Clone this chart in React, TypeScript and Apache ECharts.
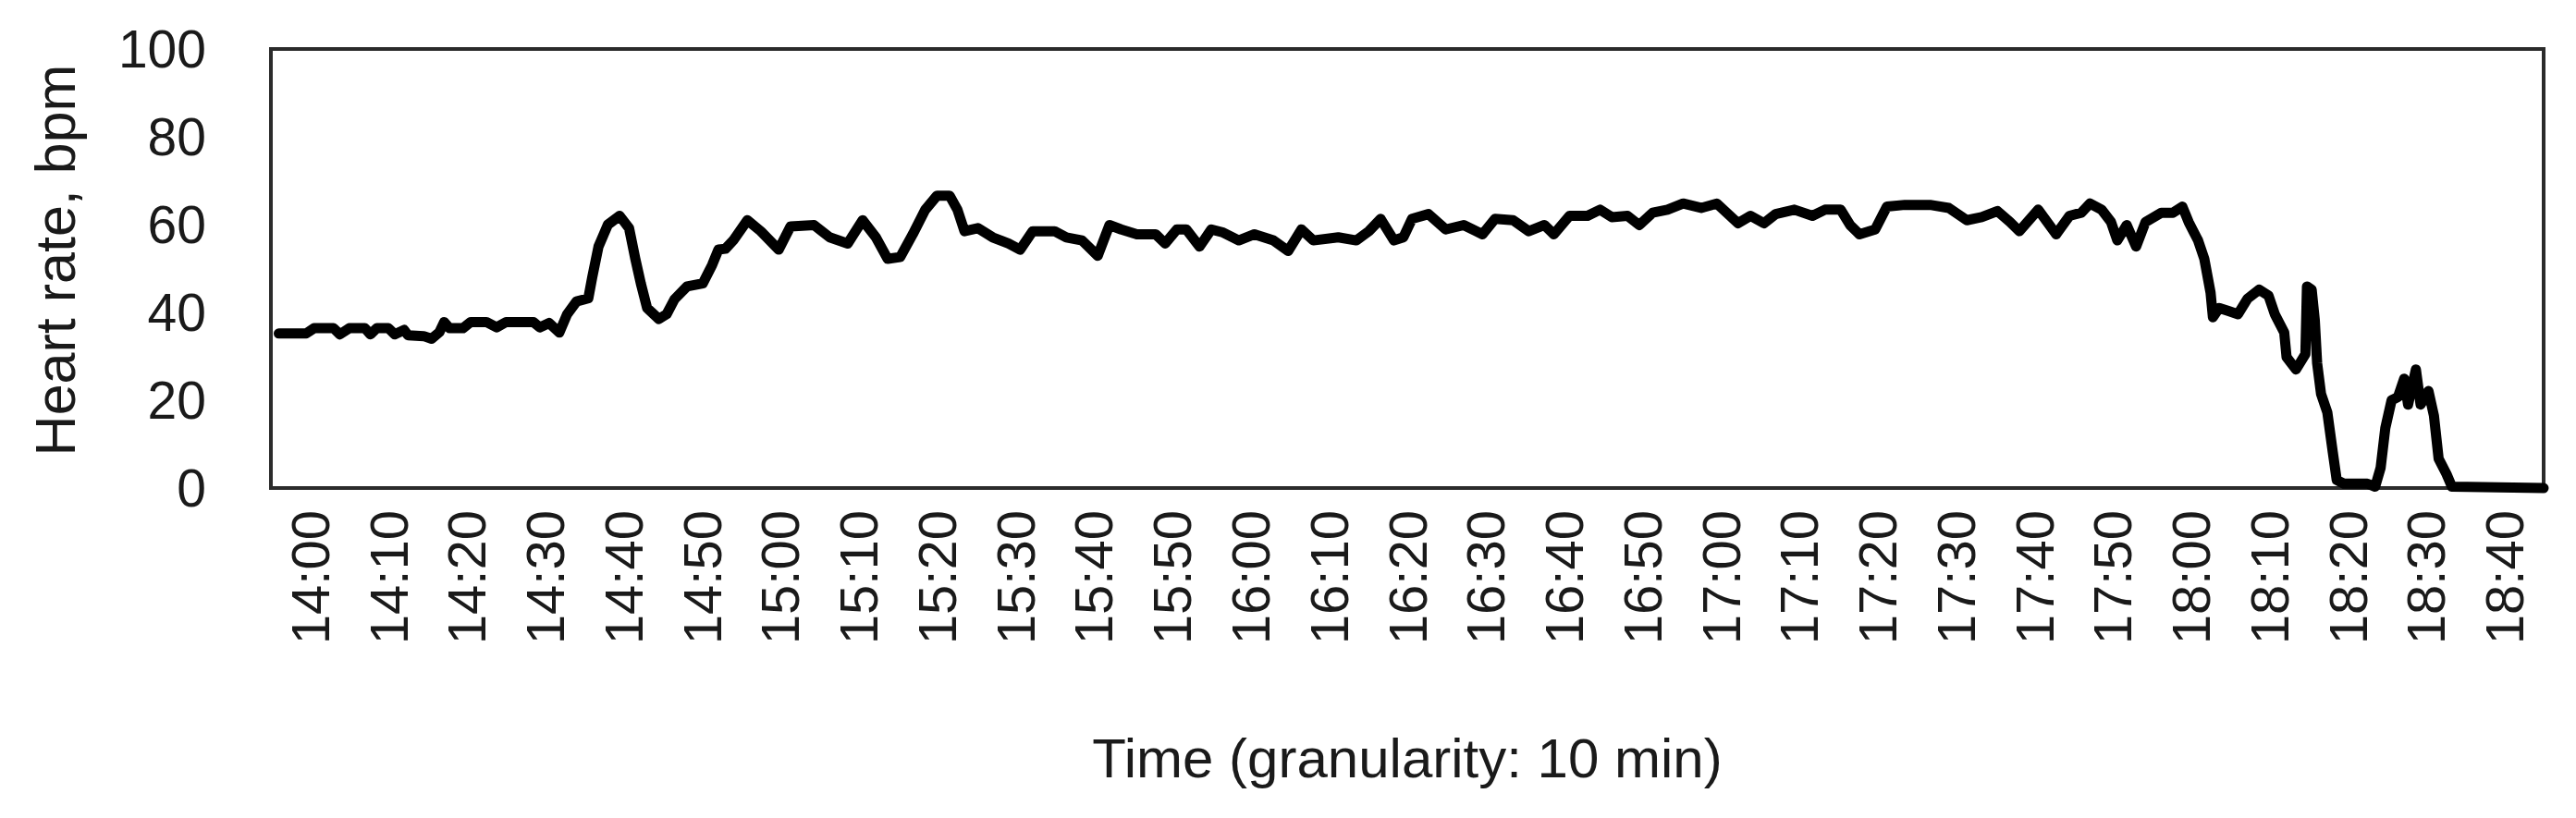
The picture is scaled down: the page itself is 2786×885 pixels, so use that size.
import React, { useEffect, useRef } from "react";
import * as echarts from "echarts";

// Tick labels (10-minute granularity)
const timeLabels = [
  "14:00", "14:10", "14:20", "14:30", "14:40", "14:50",
  "15:00", "15:10", "15:20", "15:30", "15:40", "15:50",
  "16:00", "16:10", "16:20", "16:30", "16:40", "16:50",
  "17:00", "17:10", "17:20", "17:30", "17:40", "17:50",
  "18:00", "18:10", "18:20", "18:30", "18:40",
];

// Sample times, minutes after 14:00
const minutes = [
  0.5, 4, 5, 7.5, 8.3, 9.5, 11.5, 12.2, 13, 14.5, 15.3, 16.5, 17, 19, 20, 21, 21.6, 22.3, 24,
  25, 27, 28.3, 29.5, 33, 33.8, 35, 36.3, 37.3, 38.5, 40, 40.5, 41.3, 42.5, 44, 45.2, 46,
  46.7, 47.5, 49, 50, 51, 52.6, 54.6, 55.8, 56.6, 57.5, 58.5, 60.3, 62, 64.3, 65.8, 68.8,
  70.8, 73.1, 75, 76.7, 78.2, 79.8, 81.4, 83, 84.5, 86.1, 87.1, 88, 89.7, 91.6, 93.6, 95.1,
  96.7, 99.5, 101, 103, 105, 106.5, 108, 110, 112.4, 113.6, 115.1, 116.3, 118, 119.5, 121,
  123, 125, 127.4, 129.3, 131, 132.5, 135.7, 138, 139.6, 141.1, 142.8, 144, 145.1, 147.2,
  149.4, 151.7, 154.1, 155.7, 158, 160, 162, 163.2, 165.2, 167.5, 169.1, 170.6, 172.6,
  174.1, 175.8, 177.7, 179.7, 182, 184, 186.7, 188.3, 190, 191.5, 193.9, 196.2, 197.8,
  199.8, 201, 202.2, 204.2, 205.7, 208, 211.2, 213.6, 215.9, 217.8, 219.8, 221.4, 222.6,
  225, 227.3, 229, 230.5, 231.6, 233.1, 234.3, 235.1, 236.3, 237.5, 238.7, 240.7, 242.2,
  243.4, 244.2, 245.4, 246.2, 247, 247.3, 248.1, 249.3, 250.5, 251.7, 253.2, 254.4, 255.2,
  256.4, 256.7, 257.9, 259.1, 259.3, 259.9, 260.3, 260.6, 261.1, 261.9, 262.6, 263.1, 264,
  267, 268, 268.7, 269.3, 270.1, 270.9, 271.7, 272.2, 273.2, 273.8, 274.8, 275.5, 276.1,
  277.1, 277.8, 289.5,
];

// Heart rate, bpm
const heartRate = [
  35.2, 35.2, 36.4, 36.4, 35.0, 36.4, 36.4, 35.0, 36.4, 36.4, 35.0, 36.0, 34.8, 34.6, 34.0, 35.5, 37.8, 36.4, 36.4,
  37.8, 37.8, 36.6, 37.8, 37.8, 36.6, 37.6, 35.4, 39.6, 42.5, 43.2, 48, 55, 60, 62, 59.2, 52.2,
  46.6, 41, 38.5, 39.6, 43, 45.9, 46.6, 50.8, 54.3, 54.5, 56.4, 61, 58.5, 54.3, 59.6, 59.9,
  57.1, 55.7, 61, 57.1, 52.2, 52.6, 57.8, 63.4, 66.6, 66.6, 63.4, 58.5, 59.2, 57.1, 55.7, 54.3,
  58.5, 58.5, 57.1, 56.4, 52.9, 59.9, 58.9, 57.8, 57.8, 55.7, 58.9, 58.9, 55, 58.9, 58.2,
  56.4, 57.8, 56.4, 54, 58.9, 56.4, 57.1, 56.4, 58.5, 61.3, 56.4, 57.1, 61.3, 62.4,
  58.9, 59.9, 57.8, 61.3, 61, 58.5, 59.9, 57.8, 62, 62, 63.4, 61.7, 62,
  59.9, 62.7, 63.4, 64.8, 63.8, 64.8, 60.3, 62, 60.3, 62.4, 63.4, 62, 63.4,
  63.4, 59.9, 57.8, 58.9, 64.1, 64.5, 64.5, 63.8, 61, 61.7, 63.1, 60.6, 58.5,
  63.4, 57.8, 62, 62.7, 64.8, 63.4, 60.6, 56.4, 59.9, 55, 60.6, 62.7, 62.7,
  64.1, 60.6, 56.4, 52.2, 44.5, 38.9, 41, 40.3, 39.6, 43.1, 45.2, 43.8, 39.6,
  35.4, 29.8, 27, 30.5, 45.9, 45.2, 38.2, 28.4, 21.4, 17.2, 8.1, 1.8, 1,
  1, 0.3, 4.6, 13.7, 20, 20.7, 24.9, 19, 27, 19, 22.1, 16.5, 6.7,
  3.2, 0.3, 0,
];

const FONT = "'Liberation Sans', Arial, Helvetica, sans-serif";

export default function App() {
  const ref = useRef<HTMLDivElement>(null);

  useEffect(() => {
    if (!ref.current) return;
    const chart = echarts.init(ref.current, null, { renderer: "svg" });
    const option = {
      animation: false,
      backgroundColor: "#ffffff",
      grid: {
        left: 293,
        top: 53,
        right: 35,
        bottom: 357,
        show: true,
        borderColor: "#2b2b2b",
        borderWidth: 4,
        backgroundColor: "transparent",
      },
      xAxis: [
        {
          type: "category",
          data: timeLabels,
          boundaryGap: true,
          position: "bottom",
          axisLine: { show: false },
          axisTick: { show: false },
          splitLine: { show: false },
          axisLabel: {
            rotate: 90,
            margin: 24,
            interval: 0,
            color: "#1a1a1a",
            fontFamily: FONT,
            fontSize: 58,
          },
          name: "Time (granularity: 10 min)",
          nameLocation: "middle",
          nameGap: 262,
          nameTextStyle: {
            color: "#1a1a1a",
            fontFamily: FONT,
            fontSize: 60,
          },
        },
        {
          type: "value",
          min: -0.5,
          max: 289.5,
          show: false,
        },
      ],
      yAxis: {
        type: "value",
        min: 0,
        max: 100,
        interval: 20,
        axisLine: { show: false },
        axisTick: { show: false },
        splitLine: { show: false },
        axisLabel: {
          margin: 70,
          color: "#1a1a1a",
          fontFamily: FONT,
          fontSize: 57,
        },
        name: "Heart rate, bpm",
        nameLocation: "middle",
        nameRotate: 90,
        nameGap: 203,
        nameTextStyle: {
          color: "#1a1a1a",
          fontFamily: FONT,
          fontSize: 61,
          padding: [0, 0, 0, 18],
        },
      },
      series: [
        {
          type: "line",
          xAxisIndex: 1,
          data: minutes.map((m, i) => [m, heartRate[i]]),
          showSymbol: false,
          symbol: "none",
          clip: false,
          lineStyle: { color: "#000000", width: 11, join: "round", cap: "round" },
        },
      ],
    };
    chart.setOption(option);
    return () => chart.dispose();
  }, []);

  return (
    <div
      ref={ref}
      style={{ position: "absolute", left: 0, top: 0, width: 2786, height: 885 }}
    />
  );
}
